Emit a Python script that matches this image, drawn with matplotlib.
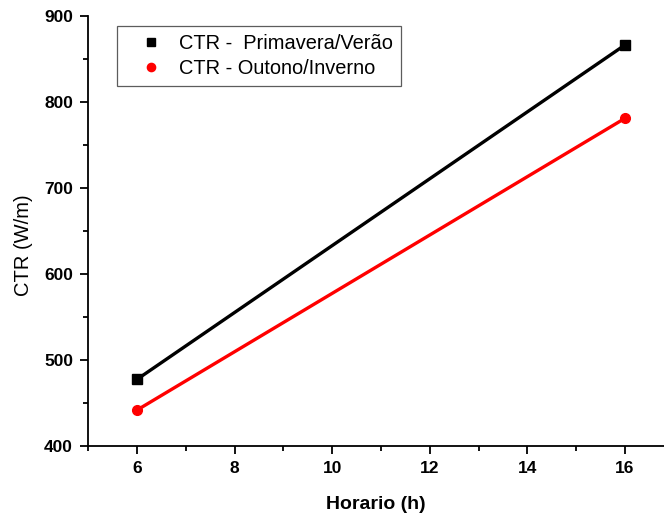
import numpy as np
import matplotlib
matplotlib.use('Agg')
import matplotlib.pyplot as plt

plt.rcParams['font.family'] = ['Liberation Sans', 'DejaVu Sans']

# dados
horario = [6, 16]
ctr_primavera = [477.5, 866]
ctr_outono = [441.8, 780.8]
rotulos = ['CTR -  Primavera/Verão', 'CTR - Outono/Inverno']

fig = plt.figure(figsize=(6.64, 5.15), dpi=100)
ax = fig.add_axes([0.133, 0.134, 0.867, 0.8355])

ax.plot(horario, ctr_primavera, color='black', lw=2.4, marker='s', ms=6.5, label=rotulos[0])
ax.plot(horario, ctr_outono, color='red', lw=2.4, marker='o', ms=7, label=rotulos[1])

ax.set_xlim(5, 16.8)
ax.set_ylim(400, 900)
ax.set_xticks(np.arange(6, 17, 2))
ax.set_xticks(np.arange(5, 17, 1), minor=True)
ax.set_yticks(np.arange(400, 901, 100))
ax.set_yticks(np.arange(450, 900, 100), minor=True)

for s in ['top', 'right']:
    ax.spines[s].set_visible(False)
for s in ['left', 'bottom']:
    ax.spines[s].set_linewidth(1.3)

ax.tick_params(which='major', length=6, width=1.3, labelsize=12.5, pad=5)
ax.tick_params(which='minor', length=3.5, width=1.3)
for lab in ax.get_xticklabels() + ax.get_yticklabels():
    lab.set_fontweight('bold')

ax.set_xlabel('Horario (h)', fontsize=14, fontweight='bold', labelpad=14)
ax.set_ylabel('CTR (W/m)', fontsize=14.5)
ax.yaxis.set_label_coords(-0.096, 0.467)

leg = ax.legend(loc='upper left', bbox_to_anchor=(0.05, 0.975), fontsize=14.4,
                frameon=True, fancybox=False, edgecolor='#333333', handlelength=2.55,
                handletextpad=0.15, borderpad=0.4, labelspacing=0.28, borderaxespad=0,
                markerscale=0.85)
leg.get_frame().set_linewidth(0.9)
for h in leg.legend_handles:
    h.set_linestyle('none')

fig.savefig('out.png', dpi=100)
